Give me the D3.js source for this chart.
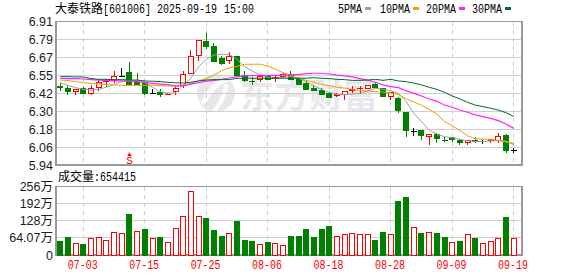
<!DOCTYPE html>
<html><head><meta charset="utf-8">
<script src="https://cdn.jsdelivr.net/npm/d3@7"></script>
<style>html,body{margin:0;padding:0;background:#fff}svg{display:block}</style>
</head><body><svg id="c" width="578" height="276"></svg>
<script>
const opens=[6.470,6.461,6.439,6.457,6.427,6.466,6.508,6.515,6.540,6.563,6.500,6.497,6.421,6.434,6.416,6.439,6.475,6.558,6.683,6.777,6.743,6.658,6.649,6.676,6.543,6.508,6.520,6.540,6.527,6.538,6.550,6.517,6.495,6.461,6.441,6.421,6.409,6.416,6.443,6.457,6.457,6.484,6.459,6.403,6.391,6.292,6.170,6.175,6.132,6.148,6.107,6.128,6.107,6.089,6.109,6.100,6.103,6.109,6.137,6.037];
const highs=[6.493,6.475,6.457,6.466,6.484,6.520,6.522,6.576,6.597,6.637,6.561,6.506,6.457,6.452,6.425,6.466,6.576,6.719,6.784,6.834,6.766,6.680,6.705,6.676,6.576,6.538,6.543,6.550,6.540,6.561,6.576,6.534,6.513,6.484,6.461,6.436,6.425,6.439,6.475,6.475,6.479,6.493,6.463,6.430,6.403,6.297,6.193,6.175,6.148,6.155,6.130,6.132,6.116,6.107,6.130,6.109,6.116,6.157,6.150,6.053];
const lows=[6.443,6.414,6.416,6.418,6.416,6.443,6.466,6.497,6.540,6.482,6.482,6.416,6.418,6.400,6.414,6.416,6.463,6.558,6.644,6.728,6.637,6.619,6.626,6.543,6.502,6.484,6.502,6.520,6.502,6.531,6.515,6.484,6.454,6.443,6.414,6.400,6.400,6.380,6.430,6.421,6.457,6.461,6.403,6.380,6.294,6.130,6.137,6.112,6.078,6.089,6.096,6.096,6.078,6.076,6.091,6.080,6.087,6.089,6.024,6.022];
const closes=[6.463,6.436,6.452,6.423,6.457,6.500,6.511,6.538,6.540,6.482,6.482,6.421,6.421,6.414,6.418,6.459,6.554,6.676,6.784,6.741,6.642,6.628,6.673,6.543,6.515,6.504,6.538,6.520,6.531,6.554,6.517,6.484,6.454,6.443,6.414,6.400,6.414,6.439,6.452,6.459,6.479,6.463,6.403,6.430,6.312,6.173,6.170,6.139,6.148,6.118,6.103,6.112,6.089,6.105,6.100,6.100,6.112,6.134,6.035,6.037];
const ma5=[6.497,6.479,6.463,6.452,6.448,6.452,6.466,6.486,6.504,6.513,6.513,6.502,6.466,6.436,6.427,6.427,6.482,6.527,6.606,6.655,6.685,6.689,6.689,6.655,6.606,6.576,6.550,6.534,6.527,6.534,6.540,6.527,6.504,6.475,6.452,6.432,6.418,6.416,6.421,6.425,6.441,6.459,6.452,6.443,6.425,6.369,6.290,6.234,6.177,6.148,6.132,6.125,6.114,6.103,6.100,6.098,6.103,6.105,6.096,6.080];
const ma10=[6.515,6.511,6.504,6.497,6.493,6.488,6.484,6.482,6.479,6.479,6.479,6.479,6.479,6.477,6.475,6.473,6.482,6.493,6.511,6.525,6.549,6.579,6.597,6.608,6.622,6.622,6.622,6.610,6.588,6.565,6.547,6.527,6.513,6.500,6.486,6.477,6.466,6.461,6.452,6.445,6.441,6.436,6.434,6.427,6.416,6.389,6.367,6.344,6.317,6.285,6.234,6.206,6.173,6.137,6.118,6.114,6.114,6.107,6.100,6.085];
const ma20=[6.527,6.525,6.525,6.522,6.518,6.515,6.513,6.509,6.509,6.507,6.504,6.497,6.493,6.488,6.484,6.475,6.475,6.488,6.497,6.507,6.513,6.520,6.529,6.538,6.543,6.545,6.547,6.547,6.547,6.549,6.552,6.552,6.558,6.561,6.561,6.556,6.549,6.543,6.536,6.525,6.515,6.500,6.482,6.470,6.464,6.443,6.425,6.407,6.387,6.371,6.346,6.331,6.312,6.297,6.279,6.267,6.256,6.240,6.218,6.188];
const ma30=[6.538,6.538,6.536,6.536,6.525,6.520,6.520,6.518,6.518,6.515,6.515,6.509,6.507,6.504,6.500,6.497,6.495,6.500,6.509,6.515,6.518,6.518,6.518,6.527,6.527,6.527,6.527,6.527,6.527,6.527,6.527,6.527,6.527,6.531,6.527,6.525,6.520,6.518,6.513,6.513,6.515,6.520,6.513,6.520,6.509,6.504,6.495,6.482,6.466,6.452,6.432,6.407,6.387,6.364,6.346,6.335,6.324,6.312,6.294,6.269];
const volumes=[52,64,44,41,62,66,55,85,81,150,89,94,62,64,47,100,145,239,145,135,90,71,81,124,56,52,40,45,44,36,71,71,97,64,97,105,70,77,81,77,77,56,86,77,202,217,104,79,85,79,67,47,49,77,60,44,51,62,142,62];
const volumeUp=[0,0,1,0,1,1,1,1,1,0,1,0,1,0,1,1,1,1,1,0,0,0,1,0,0,0,1,0,1,1,0,0,0,0,0,0,1,1,1,1,1,0,0,1,0,0,1,0,1,0,0,1,0,1,0,1,1,1,0,1];
const priceLabels=["5.94","6.06","6.18","6.30","6.42","6.55","6.67","6.79","6.91"];
const volumeTicks=[0,64,128,192,256];
const volumeLabels=["0","64.07万","128万","192万","256万"];
const dateTicks=[3,11,19,27,35,43,51,59];
const dateLabels=["07-03","07-15","07-25","08-06","08-18","08-28","09-09","09-19"];
const legendNames=["5PMA","10PMA","20PMA","30PMA"];
const legendColors=["#a0a0a0","#f0a000","#ff20ff","#006a30"];
const stockName="大泰铁路", stockCode="[601006]", stamp="2025-09-19", clock="15:00", volName="成交量", volValue=":654415", signalIndex=9;

const L=56,R=522,T=21.7,B=165,VT=186.7,VB=255;
const svg=d3.select("#c");
const x=d3.scaleLinear().domain([0,59]).range([60.3,513.7]);
const y=d3.scaleLinear().domain([5.94,6.91]).range([B,T]);
const yl=d3.scalePoint().domain(priceLabels).range([B,T]);
const v=d3.scaleLinear().domain([0,256]).range([VB,VT]);
const RED="#ff0000",GRN="#008000",GRID="#cfcfcf",FRAME="#999";
const mono="'Liberation Mono',monospace", cjk="'Noto Sans CJK SC',sans-serif", sans="'Liberation Sans',Arial,sans-serif";
const crisp=g=>g.attr("shape-rendering","crispEdges");
const ink="#1c1c1c";

// watermark
const wm=svg.append("g");
wm.append("circle").attr("cx",216).attr("cy",93).attr("r",19).attr("fill","#e8e8ec");
wm.append("path").attr("d","M203 104C212 84 222 80 232 78").attr("fill","none").attr("stroke","#fff").attr("stroke-width",5);
wm.append("path").attr("d","M212 114C222 102 226 92 226 84").attr("fill","none").attr("stroke","#fff").attr("stroke-width",4);
wm.append("text").attr("x",240).attr("y",108).attr("font-family",cjk).attr("font-weight",700).attr("font-size",34.5).attr("fill","#e8e8ec").text("东方财富");

// grids
[[priceLabels.slice(1,-1).map(d=>yl(d)),T,B],[volumeTicks.slice(1,-1).map(d=>v(d)),VT,VB]].forEach(([ys,t,b])=>{
  const g=svg.append("g").call(crisp);
  g.selectAll("line.h").data(ys).join("line").attr("x1",L).attr("x2",R).attr("y1",d=>d).attr("y2",d=>d).attr("stroke",GRID);
  g.selectAll("line.v").data(dateTicks).join("line").attr("x1",d=>x(d)).attr("x2",d=>x(d)).attr("y1",t).attr("y2",b).attr("stroke",GRID).attr("stroke-dasharray","4,4");
  svg.append("rect").attr("x",L).attr("y",t).attr("width",R-L).attr("height",b-t).attr("fill","none").attr("stroke",FRAME).attr("stroke-width",1.3).attr("shape-rendering","crispEdges");
});

// candles
const idx=d3.range(opens.length);
const col=i=>closes[i]>opens[i]?RED:closes[i]<opens[i]?GRN:"#000";
const cg=svg.append("g").call(crisp);
cg.selectAll("line").data(idx).join("line").attr("x1",i=>x(i)).attr("x2",i=>x(i)).attr("y1",i=>y(highs[i])).attr("y2",i=>y(lows[i])).attr("stroke",col);
cg.selectAll("rect").data(idx).join("rect")
 .attr("x",i=>x(i)-2.5).attr("width",5)
 .attr("y",i=>y(Math.max(opens[i],closes[i])))
 .attr("height",i=>Math.max(0.01,Math.abs(y(opens[i])-y(closes[i]))))
 .attr("fill",i=>closes[i]>opens[i]?"#fff":col(i)).attr("stroke",col);

// moving averages
const ln=d3.line().x((d,i)=>x(i)).y(d=>y(d));
[ma5,ma10,ma20,ma30].forEach((s,k)=>svg.append("path").attr("d",ln(s)).attr("fill","none").attr("stroke",legendColors[k]).attr("stroke-width",k==2?1.2:1));

// signal
svg.append("path").attr("d",d3.symbol(d3.symbolTriangle,9)()).attr("fill",RED).attr("transform",`translate(${x(signalIndex)},155)`);
svg.append("text").attr("x",x(signalIndex)).attr("y",163.5).attr("text-anchor","middle").attr("fill",RED).attr("font-family",mono).attr("font-size",11).text("S");

// volume
const vg=svg.append("g").call(crisp);
vg.selectAll("rect").data(idx).join("rect")
 .attr("x",i=>x(i)-2.5).attr("width",5)
 .attr("y",i=>v(volumes[i])).attr("height",i=>VB-v(volumes[i]))
 .attr("fill",i=>volumeUp[i]?"#fff":GRN).attr("stroke",i=>volumeUp[i]?RED:GRN);

// axes
svg.append("g").attr("transform",`translate(${L-3},0)`).call(d3.axisLeft(yl).tickSize(0).tickPadding(0))
 .call(g=>g.select(".domain").remove())
 .selectAll("text").attr("font-family",sans).attr("font-size",12.5).attr("fill",ink);
svg.append("g").attr("transform",`translate(${L-3},0)`).call(d3.axisLeft(v).tickValues(volumeTicks).tickFormat((d,i)=>volumeLabels[i]).tickSize(0).tickPadding(0))
 .call(g=>g.select(".domain").remove())
 .selectAll("text").attr("font-family",`${sans.split(",")[0]},${cjk}`).attr("font-size",12.5).attr("fill",ink);

// half-width serif-like labels: 10px mono stretched vertically so each glyph is 6px wide and 12px tall
const m=(s,px,py,c,anchor)=>svg.append("text").attr("transform",`translate(${px},${py}) scale(1,1.2)`).attr("font-family",mono).attr("font-size",10).attr("fill",c||"#000").attr("text-anchor",anchor||"start").text(s);
const z=(s,px,py)=>svg.append("text").attr("x",px).attr("y",py).attr("font-family",cjk).attr("font-size",12).attr("fill","#000").text(s);
dateTicks.forEach((d,i)=>m(dateLabels[i],x(d)-0.7,269,RED,"middle"));
z(stockName,55,13);
m(stockCode,103,13);
m(stamp,157,13);
m(clock,224,13);
z(volName,58,181);
m(volValue,94,181);
const lx=[338,380,426,472], sx=[365,413,459,505];
legendNames.forEach((n,k)=>{
  m(n,lx[k],13);
  svg.append("rect").attr("x",sx[k]).attr("y",7).attr("width",6).attr("height",3).attr("fill",legendColors[k]);
});
</script></body></html>
